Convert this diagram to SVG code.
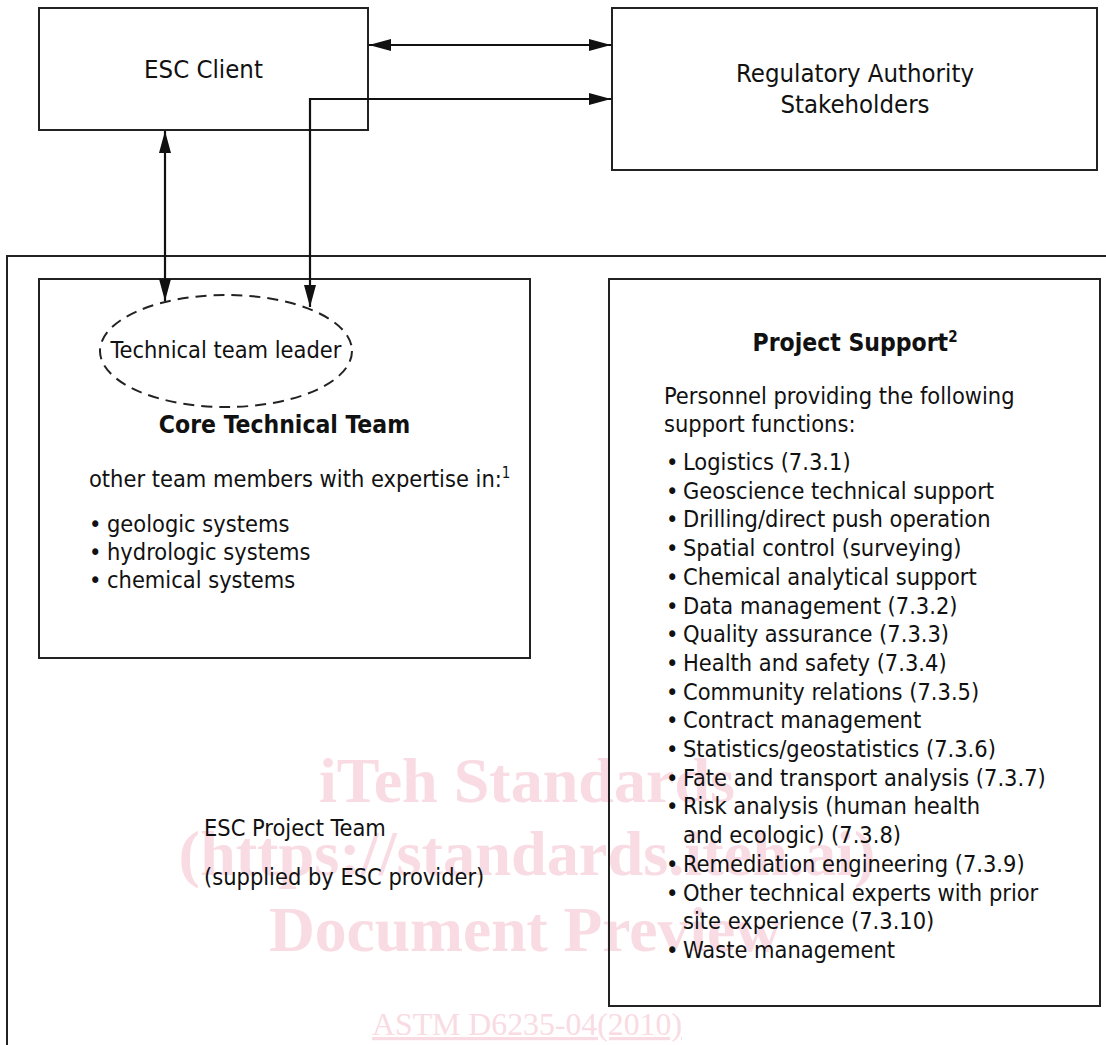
<svg xmlns="http://www.w3.org/2000/svg" width="1106" height="1045" viewBox="0 0 1106 1045">
<style>
  .box { fill: none; stroke: #222; stroke-width: 2; }
  .conn { fill: none; stroke: #111; stroke-width: 2.2; }
  .t { font-family: "DejaVu Sans Condensed", "DejaVu Sans", sans-serif; font-stretch: condensed; fill: #111; font-size: 23.4px; }
  .h { font-size: 25.5px; }
  .b { font-weight: bold; font-size: 24.5px; }
  .wm { font-family: "Liberation Serif", "Times New Roman", serif; font-weight: bold; fill: #f9dbe3; font-size: 63px; text-anchor: middle; }
  .wm2 { font-family: "Liberation Serif", "Times New Roman", serif; fill: #f9dbe3; font-size: 32px; text-anchor: middle; text-decoration: underline; }
</style>
<defs>
  <marker id="arr" viewBox="0 0 22 12" markerUnits="userSpaceOnUse" markerWidth="22" markerHeight="12" refX="22" refY="6" orient="auto-start-reverse">
    <path d="M0,0 L22,6 L0,12 z" fill="#111"/>
  </marker>
</defs>
<rect width="1106" height="1045" fill="#fff"/>

<g id="watermark">
  <text class="wm" x="527" y="802" textLength="416" lengthAdjust="spacingAndGlyphs">iTeh Standards</text>
  <text class="wm" x="527" y="875" textLength="697" lengthAdjust="spacingAndGlyphs">(https://standards.iteh.ai)</text>
  <text class="wm" x="525" y="951" textLength="512" lengthAdjust="spacingAndGlyphs">Document Preview</text>
  <text class="wm2" x="527" y="1035" textLength="310" lengthAdjust="spacingAndGlyphs">ASTM D6235-04(2010)</text>
</g>

<g id="esc-project-team">
  <path class="box" d="M7,1050 V256 H1110"/>
  <text class="t" x="204" y="836">ESC Project Team</text>
  <text class="t" x="204" y="885">(supplied by ESC provider)</text>
</g>

<g id="esc-client">
  <rect class="box" x="39" y="8" width="329" height="122"/>
  <text class="t h" x="203.5" y="78" text-anchor="middle">ESC Client</text>
</g>

<g id="regulatory">
  <rect class="box" x="612" y="8" width="485" height="162"/>
  <text class="t h" x="855" y="82" text-anchor="middle">Regulatory Authority</text>
  <text class="t h" x="855" y="113" text-anchor="middle">Stakeholders</text>
</g>

<g id="core-technical-team">
  <rect class="box" x="39" y="279" width="491" height="379"/>
  <text class="t b" x="284.5" y="433" text-anchor="middle">Core Technical Team</text>
  <text class="t" x="89" y="487">other team members with expertise in:<tspan font-size="15" dy="-9">1</tspan></text>
  <text class="t" x="89" y="532">•<tspan x="107">geologic systems</tspan></text>
  <text class="t" x="89" y="560">•<tspan x="107">hydrologic systems</tspan></text>
  <text class="t" x="89" y="588">•<tspan x="107">chemical systems</tspan></text>
</g>

<g id="technical-team-leader">
  <ellipse cx="226" cy="351" rx="126" ry="56" fill="none" stroke="#222" stroke-width="2" stroke-dasharray="11 7"/>
  <text class="t" x="226" y="358" text-anchor="middle">Technical team leader</text>
</g>

<g id="project-support">
  <rect class="box" x="609" y="279" width="491" height="727"/>
  <text class="t b" x="855" y="351" text-anchor="middle">Project Support<tspan font-size="15" dy="-9">2</tspan></text>
  <text class="t" x="664" y="404">Personnel providing the following</text>
  <text class="t" x="664" y="432">support functions:</text>
  <text class="t" x="666" y="470">•<tspan x="683">Logistics (7.3.1)</tspan></text>
  <text class="t" x="666" y="498.7">•<tspan x="683">Geoscience technical support</tspan></text>
  <text class="t" x="666" y="527.4">•<tspan x="683">Drilling/direct push operation</tspan></text>
  <text class="t" x="666" y="556.1">•<tspan x="683">Spatial control (surveying)</tspan></text>
  <text class="t" x="666" y="584.8">•<tspan x="683">Chemical analytical support</tspan></text>
  <text class="t" x="666" y="613.5">•<tspan x="683">Data management (7.3.2)</tspan></text>
  <text class="t" x="666" y="642.2">•<tspan x="683">Quality assurance (7.3.3)</tspan></text>
  <text class="t" x="666" y="670.9">•<tspan x="683">Health and safety (7.3.4)</tspan></text>
  <text class="t" x="666" y="699.6">•<tspan x="683">Community relations (7.3.5)</tspan></text>
  <text class="t" x="666" y="728.3">•<tspan x="683">Contract management</tspan></text>
  <text class="t" x="666" y="757">•<tspan x="683">Statistics/geostatistics (7.3.6)</tspan></text>
  <text class="t" x="666" y="785.7">•<tspan x="683">Fate and transport analysis (7.3.7)</tspan></text>
  <text class="t" x="666" y="814.4">•<tspan x="683">Risk analysis (human health</tspan></text>
  <text class="t" x="683" y="843.1">and ecologic) (7.3.8)</text>
  <text class="t" x="666" y="871.8">•<tspan x="683">Remediation engineering (7.3.9)</tspan></text>
  <text class="t" x="666" y="900.5">•<tspan x="683">Other technical experts with prior</tspan></text>
  <text class="t" x="683" y="929.2">site experience (7.3.10)</text>
  <text class="t" x="666" y="957.9">•<tspan x="683">Waste management</tspan></text>
</g>

<g id="connectors">
  <path class="conn" d="M369,45 H611" marker-start="url(#arr)" marker-end="url(#arr)"/>
  <path class="conn" d="M310,307 V99 H611" marker-start="url(#arr)" marker-end="url(#arr)"/>
  <path class="conn" d="M165,131 V301" marker-start="url(#arr)" marker-end="url(#arr)"/>
</g>
</svg>
